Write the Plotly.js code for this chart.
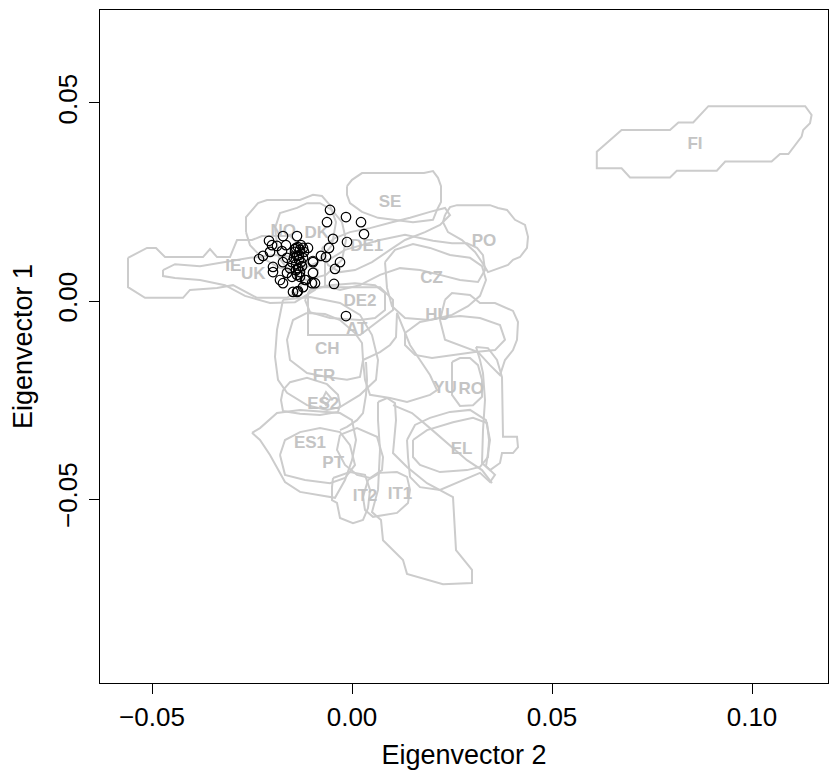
<!DOCTYPE html>
<html><head><meta charset="utf-8">
<script src="https://cdn.plot.ly/plotly-3.0.1.min.js"></script>
<style>html,body{margin:0;padding:0;background:#fff}#chart{width:829px;height:770px}</style>
</head><body><div id="chart"></div>
<script>
// All contour / point values below are in units of 0.001 (thousandths).
const xTickVals = [-0.05, 0, 0.05, 0.10];
const yTickVals = [-0.05, 0, 0.05];

// Sample points (Eigenvector 2, Eigenvector 1)
const pointsX = [-5.5,-1.5,2.25,3.0,-6.25,-4.75,-1.25,-5.75,-6.5,-7.75,-3.0,-4.25,-4.5,-1.5,-9.75,-9.75,-9.25,-11.5,-12.25,-13.5,-14.75,-17.25,-16.25,-17.25,-19.75,-13.75,-17.25,-16.5,-20.0,-20.75,-18.75,-17.5,-20.5,-22.25,-23.25,-19.75,-18.0,-15.0,-13.75,-11.75,-10.0,-11.0,-12.25,-13.5,-13.0,-12.25,-9.75,-14.25,-13.75,-13.25,-14.0,-13.5,-13.0,-13.75,-14.5,-12.75,-13.25,-12.5,-14.0,-14.25,-13.0,-15.0,-12.0,-14.0,-12.75,-16.25,-15.5];
const pointsY = [23.0,21.2,19.9,16.9,19.9,15.7,14.9,13.4,11.1,11.4,9.8,8.1,4.3,-3.8,9.8,7.1,4.5,5.3,3.5,2.5,2.3,4.5,7.1,9.8,8.6,16.4,16.4,14.1,14.1,15.2,13.9,12.6,12.4,11.4,10.6,7.3,5.3,6.1,2.3,5.3,4.5,13.4,13.4,13.6,12.9,10.9,10.1,12.4,11.4,10.4,9.3,8.3,7.3,6.6,10.9,9.8,11.6,8.8,7.8,13.1,6.1,9.8,12.4,13.4,14.1,10.9,8.3];

// Region contours
const FI_x = [61.2,61.2,67.4,69.5,79.5,81.2,91.2,93.3,104.9,107,109.1,112.4,112.8,114.5,114.9,113.3,89.1,85.3,81.6,79.5,67.4,61.2];
const FI_y = [36.9,33.5,33.5,31.2,31.2,32.9,32.9,35.2,35.2,37.1,37.1,41.5,43.2,44.9,47.0,49.2,49.2,45.1,45.1,43.2,43.2,37.7];
const IE_x = [-56,-51.25,-49,-46.75,-37.25,-35.5,-33.75,-30.5,-28.75,-25,-22.5,-15.5,-13,-11.75,-13,-16.25,-23.75,-29.75,-33.75,-40.5,-42.25,-51.75,-56];
const IE_y = [10.9,13.4,13.4,11.1,11.1,13.1,11.1,11.1,15.4,15.4,16.4,16.4,14.1,9.1,2.8,0.8,0.8,4.0,3.3,2.8,0.8,0.8,3.5];
const UK_x = [-47.25,-44.25,-38,-31.75,-25.5,-19.25,-13,-8.5,-9.25,-14.25,-20.5,-26.75,-31.75,-38,-44.25,-47.25];
const UK_y = [7.8,9.3,8.8,9.8,10.9,11.6,10.9,7.8,2.8,-0.3,-0.5,1.3,4.0,5.3,5.8,6.3];
const NO_x = [-26.5,-26.5,-23.5,-21.25,-13,-9.75,-7.5,-5.5,-4,-5,-8.5,-13,-18,-22.5,-25.5];
const NO_y = [17.4,21.2,24.7,25.5,25.5,26.8,26.5,24.2,19.9,14.1,9.8,7.8,8.3,10.9,14.1];
const DK_x = [-19.25,-18,-13.75,-11.25,-8,-5,-2.5,-1.5,-2.5,-6.5,-11.5,-15.5,-18.25];
const DK_y = [18.4,22.2,23.5,24.7,24.7,23.0,19.9,15.4,10.4,6.6,5.3,7.3,10.9];
const DE1_x = [-7.5,-4.25,-0.5,4.5,10,14.5,19.5,23.25,24.5,22,18.25,13.25,9.5,5,0.75,-3,-6];
const DE1_y = [13.4,15.9,17.4,18.4,19.9,21.0,22.5,23.5,21.7,19.2,17.4,15.4,12.9,9.8,7.8,7.3,9.1];
const DE1b_x = [-6.75,-1.75,7,13.25,20.25,25,28.75,31.25,32.75,33.25,31.5,27,22,17,12,7,2,-3,-6.75];
const DE1b_y = [9.8,12.9,15.4,16.7,15.2,14.6,14.6,13.4,11.6,7.8,4.8,5.3,6.6,7.8,8.3,6.6,4.0,2.8,4.0];
const CZ_x = [8.25,10.75,15.25,19.5,24.5,29.5,32.5,33.5,32,29,25,19.5,13.25,10,8.75];
const CZ_y = [9.8,12.9,14.4,13.4,11.6,10.9,8.8,5.3,1.3,-1.3,-3.5,-4.8,-4.3,-1.3,3.3];
const PO_x = [23.25,24.5,26.25,34.5,36.5,38.75,40.75,43.25,44,43.75,42,40.25,39,35.75,34,32.5,30.75,27.5,24,22.75];
const PO_y = [21.7,23.7,24.2,24.2,23.5,23.0,20.5,19.2,16.2,13.4,11.1,10.4,9.1,7.8,7.3,9.8,12.4,15.4,17.4,19.9];
const SE_x = [-1.25,0,2.5,18,20.25,21.5,22.25,22.25,21.25,20.25,15.25,10.25,6.5,2.5,-0.5,-1.25];
const SE_y = [29.0,30.6,32.3,32.3,32.8,31.1,29.0,25.0,23.0,20.5,19.9,20.5,21.0,22.5,24.7,26.8];
const DE2_x = [-11.75,-10.5,-5.5,0.75,5.75,8.25,8.25,5.75,2,-5.5,-10.5];
const DE2_y = [0.3,2.8,4.0,4.5,4.0,2.0,-2.3,-4.3,-4.8,-4.3,-2.8];
const AT_x = [-11,-11,2,6,10.25,10.25,7,-9.75];
const AT_y = [2.0,-8.6,-8.6,-5.6,-2.3,0.3,3.5,3.5];
const CH_x = [-11.25,-14.75,-16.25,-15.5,-11.25,-6.25,-1.25,2,2.75,2.5,0.75,-3,-6.75];
const CH_y = [-3.0,-4.8,-9.8,-14.9,-18.2,-19.2,-19.9,-19.2,-14.9,-10.6,-8.1,-4.8,-3.3];
const FR_x = [-17.25,-18.75,-19.25,-18.5,-16.25,-11.25,-6.25,-3,2,6,6.5,5,2,-3,-10.5];
const FR_y = [0.3,-7.3,-14.1,-19.9,-23.2,-26.3,-27.5,-26.8,-23.7,-19.9,-14.9,-8.6,-3.5,-0.5,1.0];
const ES2_x = [-17.25,-15.5,-11.25,-6.25,-3.5,-3,-3.5,-8,-13,-17.25,-17.75];
const ES2_y = [-22.5,-20.5,-19.4,-21.0,-23.7,-26.3,-28.0,-28.8,-28.5,-27.8,-25.0];
const ES2b_x = [-7.5,-6.5,-5.25,-6.5];
const ES2b_y = [-25.0,-23.0,-24.5,-26.3];
const ES1_x = [-18,-16.75,-13,-8,-3,-0.5,0.75,-1.75,-5.5,-11.75,-16.75];
const ES1_y = [-38.9,-35.1,-33.1,-32.1,-33.1,-36.4,-41.4,-44.7,-46.0,-45.2,-43.9];
const ES1b_x = [-25,-23,-18.75,-13,-3,0,1,0,-1.75,-4.25,-13,-16.75,-20.5,-23];
const ES1b_y = [-33.3,-32.1,-28.3,-27.5,-28.3,-30.1,-35.1,-40.2,-45.2,-49.7,-48.2,-45.7,-38.9,-35.1];
const PT_x = [-3,1.25,6.25,7.75,7.5,4.5,1.25,-1.75,-3.75];
const PT_y = [-33.8,-32.1,-34.3,-39.4,-42.7,-44.7,-43.9,-41.4,-37.6];
const IT2_x = [-4.75,-0.5,3.25,4.5,4,2.75,0.25,-3,-3.75,-5,-5];
const IT2_y = [-44.7,-43.2,-43.9,-47.7,-52.3,-55.3,-56.1,-54.8,-51.0,-50.3,-47.0];
const IT1_x = [4,7,11.25,13.75,14.5,14,11.25,5.25,3.25,2.75];
const IT1_y = [-45.2,-43.4,-43.2,-44.4,-47.7,-51.0,-53.5,-54.5,-52.8,-49.5];
const ITb_x = [6.5,8.75,10.75,11,10.25,13.75,18.75,25.25,26,30,30,22.75,13.75,12.75,7.75,7.25,5,6.5,7,6.5];
const ITb_y = [-25.5,-24.5,-25.8,-30.1,-38.4,-41.9,-46.0,-49.5,-62.9,-67.9,-71.2,-71.5,-68.9,-65.4,-60.4,-55.3,-53.3,-47.7,-37.6,-30.1];
const YU_x = [2.75,7,9.5,11,11.25,12.5,14.5,17,19.5,21.25,19.5,13.75,9.5,4.5,3.25];
const YU_y = [-14.9,-12.9,-11.1,-9.1,-3.0,-6.1,-11.1,-14.9,-18.7,-22.5,-23.7,-25.5,-24.5,-23.7,-19.9];
const HU_x = [13.25,17,22,27,32,37,38.25,35.75,30.75,25.75,20,15.75,13.25];
const HU_y = [-8.1,-5.3,-4.3,-3.8,-4.3,-6.1,-9.8,-12.4,-12.9,-13.6,-14.4,-13.6,-11.1];
const HUb_x = [23.25,25,29.5,32,35.75,40.25,41.5,41.25,40.25,38.25,37,34.5,31.5,27,23.25,22];
const HUb_y = [0.3,2.0,1.5,-0.5,-0.5,-2.5,-5.3,-9.8,-12.4,-14.9,-18.7,-16.2,-12.9,-11.1,-9.8,-4.8];
const RO_x = [25,25,27,30.25,32.5,32.5,31.5,29.5,27];
const RO_y = [-15.4,-23.7,-26.5,-26.3,-24.2,-19.9,-16.2,-14.4,-14.4];
const ROb_x = [31,32,32.75,33.25,32.75,32.5,34.5,37,37.5,40.25,41.5,41.25,37.75,37.5,37.5,36.25,34];
const ROb_y = [-11.6,-14.9,-18.2,-25.0,-32.6,-40.9,-42.7,-40.9,-38.4,-38.4,-36.9,-34.3,-34.3,-25.0,-19.2,-14.9,-11.9];
const EL_x = [15.25,18.75,25.25,30.25,33.75,34.25,34,32,28.75,22,17,15.25];
const EL_y = [-35.1,-32.6,-30.6,-29.5,-30.8,-35.1,-39.4,-41.9,-42.7,-43.2,-41.4,-39.4];
const ELb_x = [13.75,14,14.5,17,22,27.75,32,34.5,35.75,33.5,34.5,33.5,29.5,24.5,19.5,15.75];
const ELb_y = [-35.1,-39.4,-44.4,-47.0,-47.7,-45.2,-43.4,-45.7,-43.9,-41.7,-35.1,-30.1,-27.5,-28.0,-29.5,-31.3];
// open contour segments (not closed)
const SEG_x = [10.25,15,19.5,23.75,28.75,32.5,35];
const SEG_y = [-26.3,-28.3,-32.1,-35.9,-40.2,-42.7,-46.0];
const SEG2_x = [3.5,3.75,3.5,2.75,1.25,-1.25,-3];
const SEG2_y = [-15.4,-19.9,-23.7,-28.3,-30.1,-31.8,-32.6];

// Region labels
const labelText = ["FI","SE","PO","NO","DK","DE1","IE","UK","CZ","DE2","AT","HU","CH","FR","ES2","YU","RO","ES1","EL","PT","IT2","IT1"];
const labelX = [85.75,9.5,33,-17.2,-8.8,3.7,-29.7,-24.7,19.9,2,1.2,21.4,-6.2,-7.0,-7.2,23.25,29.8,-10.5,27.4,-4.7,3.25,12];
const labelY = [39.4,24.7,15.0,17.5,17.1,13.7,8.7,6.6,5.7,-0.3,-7.3,-3.6,-12.2,-19.1,-26.3,-22.1,-22.3,-36.0,-37.6,-41.0,-49.4,-49.0];

const closed = [[FI_x,FI_y],[IE_x,IE_y],[UK_x,UK_y],[NO_x,NO_y],[DK_x,DK_y],[DE1_x,DE1_y],[DE1b_x,DE1b_y],[CZ_x,CZ_y],[PO_x,PO_y],[SE_x,SE_y],[DE2_x,DE2_y],[AT_x,AT_y],[CH_x,CH_y],[FR_x,FR_y],[ES2_x,ES2_y],[ES2b_x,ES2b_y],[ES1_x,ES1_y],[ES1b_x,ES1b_y],[PT_x,PT_y],[IT2_x,IT2_y],[IT1_x,IT1_y],[ITb_x,ITb_y],[YU_x,YU_y],[HU_x,HU_y],[HUb_x,HUb_y],[RO_x,RO_y],[ROb_x,ROb_y],[EL_x,EL_y],[ELb_x,ELb_y]];
const openSegs = [[SEG_x,SEG_y],[SEG2_x,SEG2_y]];

const k = 0.001;
const lineColor = '#cccccc';
const traces = [];
closed.forEach(([xs, ys]) => {
  traces.push({x: xs.concat([xs[0]]).map(v => v*k), y: ys.concat([ys[0]]).map(v => v*k),
    mode: 'lines', type: 'scatter', line: {color: lineColor, width: 2}, hoverinfo: 'skip', showlegend: false});
});
openSegs.forEach(([xs, ys]) => {
  traces.push({x: xs.map(v => v*k), y: ys.map(v => v*k),
    mode: 'lines', type: 'scatter', line: {color: lineColor, width: 2}, hoverinfo: 'skip', showlegend: false});
});
traces.push({x: labelX.map(v => v*k), y: labelY.map(v => v*k), text: labelText, mode: 'text', type: 'scatter',
  textfont: {family: 'Liberation Sans, Arial, sans-serif', size: 17, color: '#c4c4c4', weight: 'bold'},
  hoverinfo: 'skip', showlegend: false});
traces.push({x: pointsX.map(v => v*k), y: pointsY.map(v => v*k), mode: 'markers', type: 'scatter',
  marker: {symbol: 'circle-open', size: 9.5, color: '#000', line: {width: 1.2, color: '#000'}}, showlegend: false});

const tickFont = {family: 'Liberation Sans, Arial, sans-serif', size: 26, color: '#000'};
const titleFont = {family: 'Liberation Sans, Arial, sans-serif', size: 27, color: '#000'};
const layout = {
  width: 829, height: 770,
  margin: {l: 100, r: 1, t: 10, b: 87},
  paper_bgcolor: '#fff', plot_bgcolor: '#fff',
  showlegend: false,
  xaxis: {range: [-0.063, 0.119], tickvals: xTickVals, tickformat: '.2f', ticks: 'outside', ticklen: 10, tickcolor: '#000',
    ticklabelstandoff: 1,
    showgrid: false, zeroline: false, showline: true, mirror: true, linecolor: '#000', linewidth: 1,
    tickfont: tickFont, title: {text: 'Eigenvector 2', font: titleFont, standoff: 16}},
  yaxis: {range: [-0.09646, 0.07348], tickvals: yTickVals, tickformat: '.2f', ticks: 'outside', ticklen: 10, tickcolor: '#000',
    tickangle: -90, ticklabelstandoff: 2,
    showgrid: false, zeroline: false, showline: true, mirror: true, linecolor: '#000', linewidth: 1,
    tickfont: tickFont, title: {text: 'Eigenvector 1', font: titleFont, standoff: 12}}
};
Plotly.newPlot('chart', traces, layout, {displayModeBar: false, staticPlot: true});
</script></body></html>
